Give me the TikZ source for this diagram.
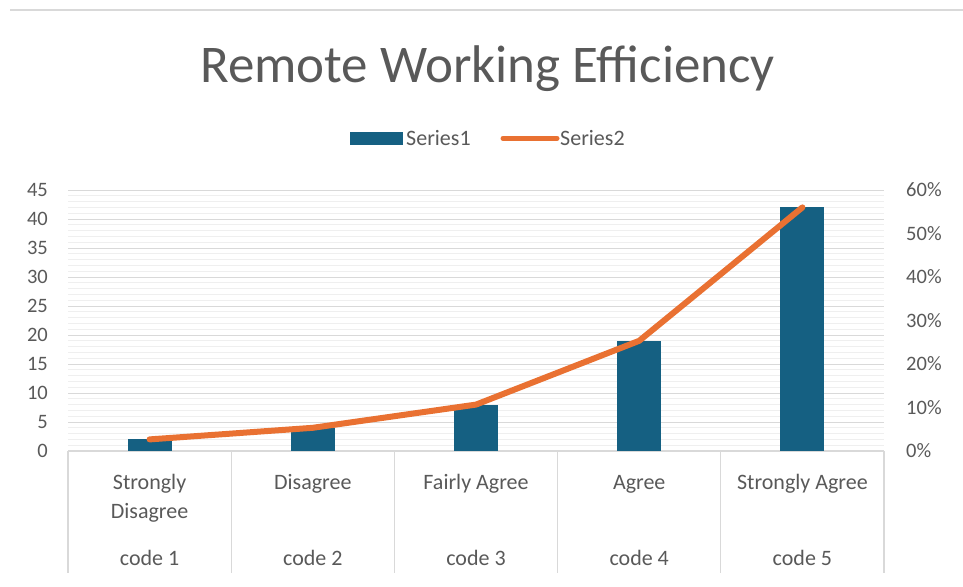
\documentclass[tikz,border=0pt]{standalone}
\usepackage{fontspec}
\setmainfont{Carlito}

\definecolor{barblue}{HTML}{156082}
\definecolor{lineorange}{HTML}{E97132}
\definecolor{txtgray}{HTML}{595959}
\definecolor{gridmajor}{HTML}{D9D9D9}
\definecolor{gridminor}{HTML}{EFEFEF}

\tikzset{
	charttitle/.style={text=txtgray, font=\fontsize{53}{60}\selectfont, inner sep=0pt},
	ticklabel/.style={text=txtgray, font=\fontsize{20.5}{24}\selectfont, inner sep=0pt},
	catlabel/.style={text=txtgray, font=\fontsize{22}{29}\selectfont, align=center, inner sep=0pt},
	legendlabel/.style={text=txtgray, font=\fontsize{22}{26}\selectfont, inner sep=0pt},
	seriesbar/.style={fill=barblue},
	seriesline/.style={draw=lineorange, line width=6pt, line cap=round, line join=round}
}

\begin{document}
\begin{tikzpicture}[x=1pt, y=-1pt]
	\useasboundingbox (0,0) rectangle (963,586);
	\draw [gridmajor, line width=2pt] (10,10) -- (963,10);

	% title and legend
	\node [charttitle, anchor=base] (title) at (487.5,82) {Remote Working Efficiency};
	\fill [seriesbar] (350,131.7) rectangle (402.7,145);
	\node [legendlabel, anchor=west] (leg1) at (406,138) {Series1};
	\draw [seriesline, line width=5pt] (503,138.3) -- (557,138.3);
	\node [legendlabel, anchor=west] (leg2) at (560,138) {Series2};

	% grid
	\foreach \k in {1,...,45}
		\draw [gridminor, line width=1pt] (68,{451-5.8*\k}) -- (884,{451-5.8*\k});
	\foreach \k in {5,10,...,45}
		\draw [gridmajor, line width=1pt] (68,{451-5.8*\k}) -- (884,{451-5.8*\k});
	\draw [gridmajor, line width=1.2pt] (68,451) -- (884,451);
	\foreach \i in {0,...,5}
		\draw [gridmajor, line width=1.2pt] ({68+163.2*\i},451) -- ({68+163.2*\i},573);

	% axis labels
	\foreach \v in {0,5,...,45}
		\node [ticklabel, anchor=east] (l\v) at (48,{451-5.8*\v}) {\v};
	\foreach \p in {0,10,...,60}
		\node [ticklabel, anchor=west] (r\p) at (906,{451-4.35*\p}) {\p\%};

	% bars
	\foreach \i/\v in {1/2,2/4,3/8,4/19,5/42}
		\fill [seriesbar] ({68+163.2*(\i-0.5)-22},451) rectangle ({68+163.2*(\i-0.5)+22},{451-5.8*\v});

	% line
	\coordinate (p1) at (149.6,439.4);
	\coordinate (p2) at (312.8,427.8);
	\coordinate (p3) at (476.0,404.6);
	\coordinate (p4) at (639.2,340.8);
	\coordinate (p5) at (802.4,207.4);
	\draw [seriesline] (p1) -- (p2) -- (p3) -- (p4) -- (p5);

	% categories
	\node [catlabel, anchor=base] (cat1) at (149.6,518) {Strongly\\Disagree};
	\node [catlabel, anchor=base] (cat2) at (312.8,489) {Disagree};
	\node [catlabel, anchor=base] (cat3) at (476.0,489) {Fairly Agree};
	\node [catlabel, anchor=base] (cat4) at (639.2,489) {Agree};
	\node [catlabel, anchor=base] (cat5) at (802.4,489) {Strongly Agree};
	\node [catlabel, anchor=base] (code1) at (149.6,565) {code 1};
	\node [catlabel, anchor=base] (code2) at (312.8,565) {code 2};
	\node [catlabel, anchor=base] (code3) at (476.0,565) {code 3};
	\node [catlabel, anchor=base] (code4) at (639.2,565) {code 4};
	\node [catlabel, anchor=base] (code5) at (802.4,565) {code 5};
\end{tikzpicture}
\end{document}
